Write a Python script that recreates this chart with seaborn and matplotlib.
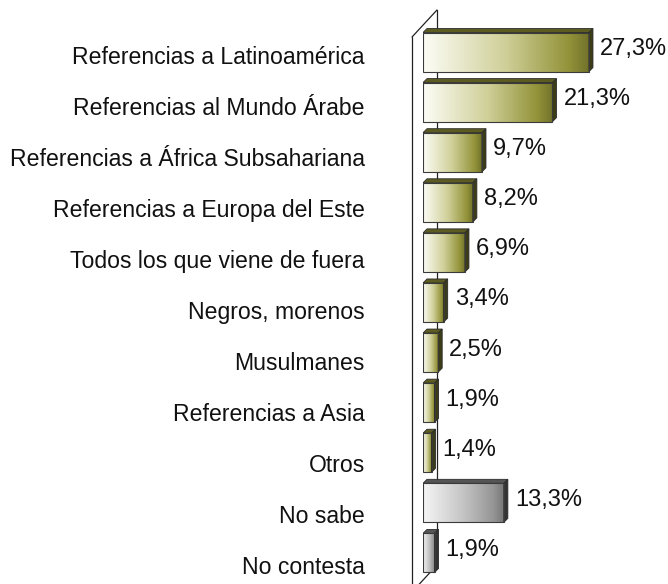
import numpy as np
import matplotlib
matplotlib.use("Agg")
import matplotlib.pyplot as plt
from matplotlib.colors import LinearSegmentedColormap
from matplotlib.patches import Polygon
import seaborn as sns

# data
categories = ["Referencias a Latinoamérica", "Referencias al Mundo Árabe",
              "Referencias a África Subsahariana", "Referencias a Europa del Este",
              "Todos los que viene de fuera", "Negros, morenos", "Musulmanes",
              "Referencias a Asia", "Otros", "No sabe", "No contesta"]
values = [27.3, 21.3, 9.7, 8.2, 6.9, 3.4, 2.5, 1.9, 1.4, 13.3, 1.9]
groups = ["ref"] * 9 + ["ns"] * 2

sns.set_style("white")
plt.rcParams["font.family"] = ["Liberation Sans", "DejaVu Sans"]

# colours per group: gradient stops, top face, side face
styles = {
    "ref": dict(cmap=LinearSegmentedColormap.from_list(
        "olive", [(0, "#fdfdf7"), (0.5, "#cfcf98"), (0.88, "#93933a"), (1, "#72722b")]),
        top="#5c5c22", side="#3c3c16"),
    "ns": dict(cmap=LinearSegmentedColormap.from_list(
        "gris", [(0, "#f6f6f6"), (0.5, "#c4c4c4"), (0.88, "#949494"), (1, "#777777")]),
        top="#555555", side="#333333"),
}

fig = plt.figure(figsize=(6.68, 5.84), dpi=100)
W, H = 668, 584
ax = fig.add_axes([423 / W, 0, 245 / W, 563 / H])

sns.barplot(x=values, y=categories, orient="h", width=0.78, color="white",
            ax=ax, zorder=2)

xlim = (0, 40.3)
ylim = (10.62, -0.62)
ax.set_xlim(xlim)
ax.set_ylim(ylim)
ax.set_autoscale_on(False)

# pixel -> data conversion for the 3D depth
px_x = (xlim[1] - xlim[0]) / 245.0
px_y = (ylim[0] - ylim[1]) / 563.0
dx, dy = 4 * px_x, 4 * px_y

grad = np.linspace(0, 1, 256).reshape(1, -1)
for i, (p, g) in enumerate(zip(ax.patches, groups)):
    x, y, w, h = p.get_x(), p.get_y(), p.get_width(), p.get_height()
    st = styles[g]
    p.set_facecolor("none")
    p.set_edgecolor("#3a3a3a")
    p.set_linewidth(0.8)
    p.set_zorder(4)
    ax.imshow(grad, cmap=st["cmap"], extent=[x, x + w, y + h, y],
              aspect="auto", zorder=3, interpolation="bilinear")
    # top face (y is inverted: smaller y = higher)
    top = Polygon([(x, y), (x + w, y), (x + w + dx, y - dy), (x + dx, y - dy)],
                  closed=True, facecolor=st["top"], edgecolor="#2a2a2a",
                  linewidth=0.6, zorder=3)
    side = Polygon([(x + w, y), (x + w + dx, y - dy), (x + w + dx, y + h - dy),
                    (x + w, y + h)], closed=True, facecolor=st["side"],
                   edgecolor="#2a2a2a", linewidth=0.6, zorder=3)
    ax.add_patch(top)
    ax.add_patch(side)

    lab = ("%.1f" % values[i]).replace(".", ",") + "%"
    ax.annotate(lab, xy=(x + w + dx, y + h / 2), xytext=(5, 2.2),
                textcoords="offset points", ha="left", va="center",
                fontsize=17, color="#111111")
    ax.annotate(categories[i], xy=(0, y + h / 2), xytext=(-41.8, -(5 + i) * 0.72),
                textcoords="offset points", ha="right", va="center",
                fontsize=16.6, color="#111111", annotation_clip=False)

# the 3D wall on the left
xf, xb = -11 * px_x, 14 * px_x
ax.plot([xb, xb], [-0.84, 10.24], color="#222222", lw=0.9, zorder=1, clip_on=False)
ax.plot([xf, xb], [-0.30, -0.84], color="#222222", lw=0.9, zorder=1, clip_on=False)
ax.plot([xf, xf], [-0.30, 10.9], color="#222222", lw=0.9, zorder=1, clip_on=False)
ax.plot([xb, xf], [10.24, 10.78], color="#222222", lw=0.9, zorder=1, clip_on=False)

ax.set_xlim(xlim)
ax.set_ylim(ylim)
ax.set_xticks([])
ax.set_yticks([])
ax.set_xlabel("")
ax.set_ylabel("")
for s in ax.spines.values():
    s.set_visible(False)

fig.savefig("out.png", dpi=100)
